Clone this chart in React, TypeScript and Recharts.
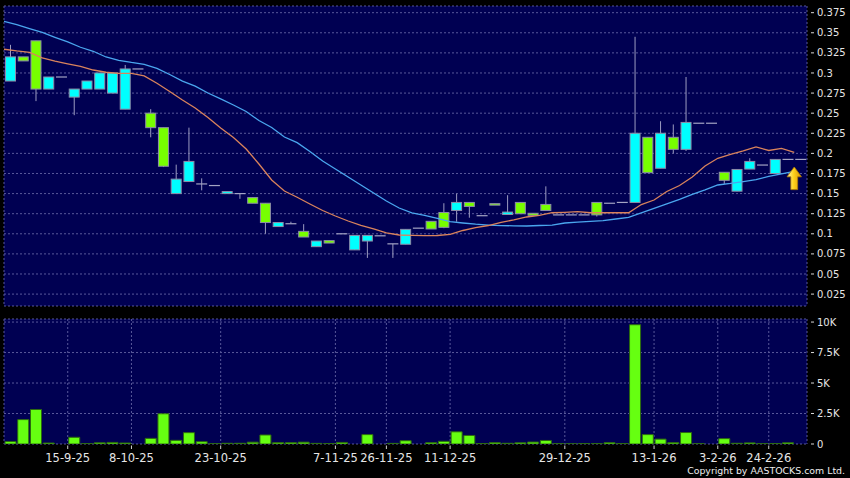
import React from "react";
import {
  ComposedChart,
  Bar,
  Line,
  XAxis,
  YAxis,
  CartesianGrid,
  ReferenceDot,
} from "recharts";

// one entry per trading slot, left to right
const opens = [
  0.29, 0.32, 0.34, 0.28, 0.295, 0.27, 0.28, 0.28, 0.275, 0.255,
  0.305, 0.25, 0.232, 0.15, 0.165, 0.162, 0.16, 0.15, 0.15, 0.145,
  0.138, 0.109, 0.1125, 0.103, 0.084, 0.0915, 0.1, 0.08, 0.091, 0.0975,
  0.0875, 0.087, 0.107, 0.1155, 0.1265, 0.129, 0.139, 0.1225, 0.1375, 0.124,
  0.139, 0.1255, 0.1365, 0.1235, 0.1235, 0.1235, 0.139, 0.138, 0.139, 0.139,
  0.22, 0.1815, 0.22, 0.205, 0.2375, 0.2375, 0.1765, 0.153, 0.1805, 0.1855,
  0.175, 0.1925, 0.1925,
];
const highs = [
  0.335, 0.32, 0.34, 0.295, 0.295, 0.28, 0.29, 0.3, 0.3, 0.31,
  0.305, 0.255, 0.232, 0.186, 0.232, 0.169, 0.16, 0.1525, 0.15, 0.145,
  0.138, 0.114, 0.115, 0.112, 0.091, 0.0915, 0.1, 0.098, 0.098, 0.0975,
  0.0875, 0.1055, 0.107, 0.1155, 0.138, 0.15, 0.139, 0.1225, 0.1375, 0.148,
  0.139, 0.1255, 0.159, 0.1235, 0.1235, 0.1235, 0.139, 0.138, 0.139, 0.345,
  0.22, 0.24, 0.236, 0.295, 0.2375, 0.2375, 0.1765, 0.18, 0.194, 0.1855,
  0.1925, 0.1925, 0.1925,
];
const lows = [
  0.29, 0.315, 0.265, 0.28, 0.295, 0.2475, 0.28, 0.28, 0.275, 0.255,
  0.305, 0.22, 0.183, 0.15, 0.165, 0.154, 0.16, 0.15, 0.1435, 0.138,
  0.1, 0.109, 0.1125, 0.096, 0.084, 0.0885, 0.1, 0.08, 0.07, 0.0975,
  0.07, 0.087, 0.107, 0.106, 0.107, 0.115, 0.12, 0.1225, 0.136, 0.124,
  0.125, 0.123, 0.129, 0.1235, 0.1235, 0.1235, 0.1215, 0.138, 0.139, 0.139,
  0.176, 0.1815, 0.2, 0.203, 0.2375, 0.2375, 0.162, 0.153, 0.1805, 0.1855,
  0.175, 0.1925, 0.1925,
];
const closes = [
  0.32, 0.315, 0.28, 0.295, 0.295, 0.28, 0.29, 0.3, 0.3, 0.305,
  0.305, 0.232, 0.184, 0.168, 0.19, 0.162, 0.16, 0.1525, 0.15, 0.138,
  0.114, 0.114, 0.1125, 0.096, 0.091, 0.0885, 0.1, 0.098, 0.098, 0.0975,
  0.0875, 0.1055, 0.107, 0.106, 0.108, 0.139, 0.134, 0.1225, 0.136, 0.127,
  0.125, 0.123, 0.129, 0.1235, 0.1235, 0.1235, 0.1235, 0.138, 0.139, 0.225,
  0.176, 0.225, 0.205, 0.2385, 0.2375, 0.2375, 0.1665, 0.18, 0.19, 0.1855,
  0.1925, 0.1925, 0.1925,
];
const volumes = [
  200, 2000, 2830, 80, 0, 550, 30, 100, 130, 80,
  0, 460, 2480, 300, 930, 190, 20, 60, 60, 150,
  740, 110, 110, 150, 50, 40, 130, 0, 770, 0,
  50, 270, 0, 110, 220, 1000, 700, 40, 110, 60,
  100, 160, 290, 20, 10, 30, 30, 110, 40, 9780,
  770, 400, 110, 940, 20, 0, 440, 60, 90, 20,
  30, 100, 0,
];
// moving averages, read at the slot boundaries
const maShort = [
  0.3295, 0.3274, 0.3257, 0.3187, 0.3146, 0.3112, 0.3081, 0.3037, 0.3009, 0.2996,
  0.2994, 0.2963, 0.2872, 0.277, 0.2664, 0.2565, 0.2447, 0.2316, 0.2198, 0.2055,
  0.1868, 0.1669, 0.1532, 0.1454, 0.1371, 0.129, 0.1221, 0.1159, 0.1106, 0.106,
  0.101, 0.0985, 0.0981, 0.0976, 0.0979, 0.0994, 0.1041, 0.1076, 0.1103, 0.1143,
  0.1172, 0.1209, 0.1228, 0.1262, 0.1267, 0.1275, 0.1262, 0.1262, 0.1262, 0.1262,
  0.1364, 0.142, 0.1526, 0.1601, 0.1706, 0.1843, 0.1939, 0.1989, 0.203, 0.208,
  0.2036, 0.2063, 0.2014,
];
const maLong = [
  0.3643, 0.3601, 0.3553, 0.3504, 0.3444, 0.3386, 0.332, 0.327, 0.3199, 0.3158,
  0.3131, 0.3108, 0.3058, 0.2981, 0.2898, 0.2836, 0.2751, 0.2677, 0.2602, 0.2521,
  0.2409, 0.2322, 0.2204, 0.2133, 0.2024, 0.1905, 0.1806, 0.1706, 0.1607, 0.1507,
  0.1408, 0.1321, 0.1259, 0.1228, 0.1193, 0.1152, 0.1134, 0.1119, 0.1109, 0.1102,
  0.1099, 0.1097, 0.1103, 0.1109, 0.1134, 0.1144, 0.1155, 0.1163, 0.1184, 0.1205,
  0.1259, 0.1315, 0.1371, 0.1427, 0.1489, 0.1545, 0.1607, 0.1626, 0.165, 0.1675,
  0.1713, 0.1744, 0.1777,
];

const tickSlots = [5, 10, 17, 26, 30, 35, 44, 51, 56, 60];
const tickLabels = [
  "15-9-25", "8-10-25", "23-10-25", "7-11-25", "26-11-25",
  "11-12-25", "29-12-25", "13-1-26", "3-2-26", "24-2-26",
];
const priceTicks = [
  0.025, 0.05, 0.075, 0.1, 0.125, 0.15, 0.175, 0.2, 0.225, 0.25, 0.275, 0.3,
  0.325, 0.35, 0.375,
];
const volumeTicks = [0, 2500, 5000, 7500, 10000];
const signalArrow = { slot: 62, price: 0.169 };

const data = opens.map((o, i) => ({
  i,
  open: o,
  high: highs[i],
  low: lows[i],
  close: closes[i],
  range: [lows[i], highs[i]],
  vol: volumes[i],
  maS: maShort[i],
  maL: maLong[i],
}));

const FONT = "DejaVu Sans, Verdana, sans-serif";
const GRID = "#58589a";
const PLOT_BG = "#000052";
const UP = "#00ffff";
const DOWN = "#77ff00";

// volume panel geometry
const VOL_H = 165;
const VOL_MARGIN = { top: 6, right: 0, bottom: 5, left: 4 };
const DATE_AXIS_H = 29;
const VOL_PLOT_BOTTOM = VOL_H - VOL_MARGIN.bottom - DATE_AXIS_H;

function Candle(props: any) {
  const { x, y, width, height, payload } = props;
  const { open, close, high, low } = payload;
  const cx = x + width / 2;
  const span = high - low;
  const py = (v: number) => (span > 0 ? y + ((high - v) / span) * height : y);
  const wick = span > 0 ? (
    <line x1={cx} x2={cx} y1={py(high)} y2={py(low)} stroke="#9c9cc0" strokeWidth={1} />
  ) : null;
  if (open === close) {
    return (
      <g>
        {wick}
        <line x1={x} x2={x + width} y1={py(open)} y2={py(open)} stroke="#a4a4c4" strokeWidth={1.2} />
      </g>
    );
  }
  const top = py(Math.max(open, close));
  const bot = py(Math.min(open, close));
  return (
    <g>
      {wick}
      <rect
        x={x + 0.5}
        y={top}
        width={width - 1}
        height={Math.max(bot - top, 1.5)}
        fill={close > open ? UP : DOWN}
        stroke="#8c8ca8"
        strokeWidth={1}
      />
    </g>
  );
}

function Arrow(props: any) {
  const { cx, cy } = props;
  const pts = [
    [cx, cy - 11.3],
    [cx + 7.2, cy - 1.5],
    [cx + 3.4, cy - 1.5],
    [cx + 3.4, cy + 11.3],
    [cx - 3.4, cy + 11.3],
    [cx - 3.4, cy - 1.5],
    [cx - 7.2, cy - 1.5],
  ]
    .map((p) => p.join(","))
    .join(" ");
  return (
    <g>
      <defs>
        <linearGradient id="arrowFill" x1="0" y1="0" x2="1" y2="0">
          <stop offset="0" stopColor="#fff6a8" />
          <stop offset="0.45" stopColor="#ffd21e" />
          <stop offset="1" stopColor="#d99200" />
        </linearGradient>
      </defs>
      <polygon points={pts} fill="url(#arrowFill)" stroke="#b37d00" strokeWidth={0.8} />
    </g>
  );
}

const RightTick = ({ x, y, payload, fmt }: any) => (
  <g>
    <line x1={x + 4} x2={x + 7} y1={y} y2={y} stroke="#d8d8d8" />
    <text x={x + 10} y={y} dy={3.6} fill="#e6e6e6" fontSize={10} fontFamily={FONT}>
      {fmt(payload.value)}
    </text>
  </g>
);

const DateTick = ({ x, payload }: any) => (
  <g>
    <line x1={x} x2={x} y1={VOL_PLOT_BOTTOM + 1.5} y2={VOL_PLOT_BOTTOM + 5} stroke="#cfcfcf" />
    <text
      x={x}
      y={VOL_PLOT_BOTTOM + 17.5}
      textAnchor="middle"
      fill="#e6e6e6"
      fontSize={11.5}
      fontFamily={FONT}
    >
      {tickLabels[tickSlots.indexOf(payload.value)]}
    </text>
  </g>
);

const fmtPrice = (v: number) => String(v);
const fmtVol = (v: number) => (v === 0 ? "0" : `${v / 1000}K`);

export default function App() {
  return (
    <div style={{ position: "relative", width: 850, height: 478, background: "#000" }}>
      <style>{"body{margin:0;background:#000}"}</style>
      <div style={{ position: "absolute", left: 0, top: 0 }}>
        <ComposedChart width={850} height={311} data={data} margin={{ top: 6, right: 0, bottom: 5, left: 4 }}>
          <XAxis xAxisId="c" type="number" dataKey="i" domain={[-0.5, 62.5]} hide allowDataOverflow />
          <XAxis
            xAxisId="m"
            type="number"
            dataKey="i"
            domain={[0, 63]}
            ticks={tickSlots}
            tick={false}
            tickLine={false}
            axisLine={false}
            height={0}
            allowDataOverflow
          />
          <YAxis
            yAxisId="p"
            orientation="right"
            type="number"
            domain={[0.0102, 0.3833]}
            ticks={priceTicks}
            interval={0}
            allowDataOverflow
            width={43}
            axisLine={false}
            tickLine={false}
            tickSize={0}
            tickMargin={0}
            tick={<RightTick fmt={fmtPrice} />}
          />
          <CartesianGrid
            xAxisId="m"
            yAxisId="p"
            stroke={GRID}
            strokeDasharray="2 2"
            fill={PLOT_BG}
            fillOpacity={1}
          />
          <Bar
            xAxisId="c"
            yAxisId="p"
            dataKey="range"
            barSize={11}
            shape={(p: any) => <Candle {...p} />}
            isAnimationActive={false}
          />
          <Line xAxisId="m" yAxisId="p" type="linear" dataKey="maL" stroke="#4aa6ee" strokeWidth={1.3} dot={false} activeDot={false} isAnimationActive={false} />
          <Line xAxisId="m" yAxisId="p" type="linear" dataKey="maS" stroke="#d9835c" strokeWidth={1.3} dot={false} activeDot={false} isAnimationActive={false} />
          <ReferenceDot
            xAxisId="m"
            yAxisId="p"
            x={signalArrow.slot}
            y={signalArrow.price}
            shape={(p: any) => <Arrow {...p} />}
          />
        </ComposedChart>
      </div>
      <div style={{ position: "absolute", left: 0, top: 313 }}>
        <ComposedChart width={850} height={VOL_H} data={data} margin={VOL_MARGIN}>
          <XAxis xAxisId="c" type="number" dataKey="i" domain={[-0.5, 62.5]} hide allowDataOverflow />
          <XAxis
            xAxisId="m"
            type="number"
            dataKey="i"
            domain={[0, 63]}
            ticks={tickSlots}
            axisLine={false}
            tickLine={false}
            tickSize={0}
            tickMargin={0}
            height={DATE_AXIS_H}
            interval={0}
            tick={<DateTick />}
            allowDataOverflow
          />
          <YAxis
            yAxisId="v"
            orientation="right"
            type="number"
            domain={[0, 10250]}
            ticks={volumeTicks}
            interval={0}
            allowDataOverflow
            width={43}
            axisLine={false}
            tickLine={false}
            tickSize={0}
            tickMargin={0}
            tick={<RightTick fmt={fmtVol} />}
          />
          <CartesianGrid
            xAxisId="m"
            yAxisId="v"
            stroke={GRID}
            strokeDasharray="2 2"
            fill={PLOT_BG}
            fillOpacity={1}
          />
          <Bar
            xAxisId="c"
            yAxisId="v"
            dataKey="vol"
            barSize={11}
            fill="#66ff11"
            stroke="#2d6a10"
            strokeWidth={1}
            isAnimationActive={false}
          />
        </ComposedChart>
      </div>
      <div
        style={{
          position: "absolute",
          right: 5,
          top: 465,
          fontFamily: FONT,
          fontSize: 9.4,
          lineHeight: "11px",
          color: "#eeeeee",
          whiteSpace: "nowrap",
        }}
      >
        Copyright by AASTOCKS.com Ltd.
      </div>
    </div>
  );
}
